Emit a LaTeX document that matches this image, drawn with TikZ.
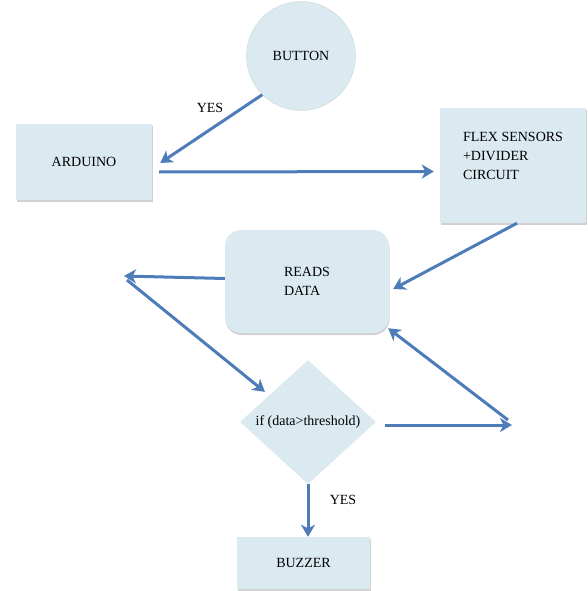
\documentclass[tikz,border=0pt]{standalone}
\usepackage{fontspec}
\setmainfont{Liberation Serif}
\newfontfamily\policeschema{Liberation Serif}
\usepackage{tikz}
\usetikzlibrary{shapes.geometric,arrows.meta,calc,shadows}
\definecolor{bleuclair}{RGB}{219,234,241}
\definecolor{bleufleche}{RGB}{78,124,184}

\begin{document}
\begin{tikzpicture}[x=1pt,y=-1pt]

\tikzset{bloc/.style={fill=bleuclair,drop shadow={shadow xshift=0.5pt,shadow yshift=-2pt,fill=black!40,opacity=0.45}},
	fleche/.style={bleufleche,line width=3pt,-{Stealth[length=12pt,width=14pt,inset=3.5pt]}}, %style des fleches
	texte/.style={font=\policeschema\fontsize{14}{19}\selectfont,text=black}}

	\useasboundingbox (0,0) rectangle (587,591);

	%----------blocs------------
	\node[texte,circle,fill=bleuclair,draw=bleuclair!80!gray,minimum size=109pt,inner sep=0pt] (bouton) at (301,56) {BUTTON};
	\node[texte,bloc,minimum width=136pt,minimum height=76pt] (arduino) at (84,162) {ARDUINO};
	\node[texte,bloc,minimum width=146pt,minimum height=115pt,align=left] (capteurs) at (513,165.5) {FLEX SENSORS\\+DIVIDER\\CIRCUIT\\~};
	\node[texte,bloc,rounded corners=16pt,minimum width=164pt,minimum height=103pt,align=left] (lecture) at (307,281.5) {READS\\DATA};
	\node[texte,diamond,fill=bleuclair,minimum width=136pt,minimum height=124pt,inner sep=0pt] (test) at (308,422) {if (data>threshold)};
	\node[texte,bloc,minimum width=133pt,minimum height=52pt] (buzzer) at (303.5,563) {BUZZER};

	%points de passage
	\coordinate (gauche) at (124,276);
	\coordinate (droite) at (512,425);

	%----------fleches------------
	\draw[fleche] (bouton.225) -- ($(arduino.east)+(8,1)$);
	\node[texte] (oui1) at (210,108) {YES};
	\draw[fleche] ($(arduino.east)+(7,10)$) -- ($(capteurs.west)+(-6,6)$);
	\draw[fleche] ($(capteurs.south)+(4,0)$) -- ($(lecture.east)+(4,7.5)$);
	\draw[fleche] ($(lecture.west)+(0,-3)$) -- (gauche);
	\draw[fleche] ($(gauche)+(3,4)$) -- ($(test.north west)+(-9,1)$);
	\draw[fleche] ($(test.east)+(9,3)$) -- (droite);
	\draw[fleche] ($(droite)+(-4,-5)$) -- ($(lecture.south east)+(-1,-5)$);
	\draw[fleche] (test.south) -- (test.south |- buzzer.north);
	\node[texte] (oui2) at (343,500) {YES};

\end{tikzpicture}
\end{document}
